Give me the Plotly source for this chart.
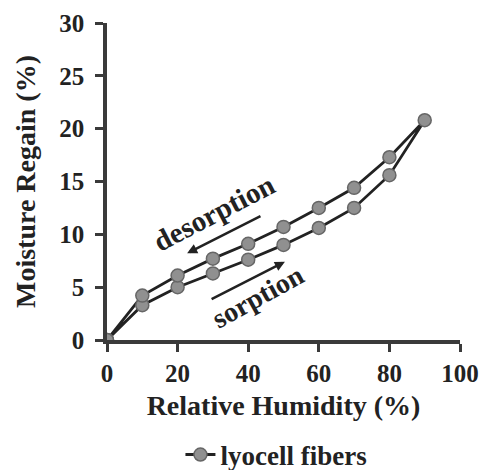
import plotly.graph_objects as go

# Data
rh_sorption = [0, 10, 20, 30, 40, 50, 60, 70, 80, 90]
mr_sorption = [0, 3.3, 5.0, 6.3, 7.6, 9.0, 10.6, 12.5, 15.6, 20.8]
rh_desorption = [90, 80, 70, 60, 50, 40, 30, 20, 10, 0]
mr_desorption = [20.8, 17.3, 14.4, 12.5, 10.7, 9.1, 7.7, 6.1, 4.2, 0]

x_ticks = [0, 20, 40, 60, 80, 100]
y_ticks = [0, 5, 10, 15, 20, 25, 30]

series_name = "lyocell fibers"
x_title = "Relative Humidity (%)"
y_title = "Moisture Regain (%)"

FONT = "Liberation Serif"

def bfont(size):
    return dict(family=FONT, size=size, color="#222222", weight="bold")

x_all = rh_sorption + rh_desorption[1:]
y_all = mr_sorption + mr_desorption[1:]

fig = go.Figure()
fig.add_trace(go.Scatter(
    x=x_all, y=y_all, mode="lines+markers", name=series_name,
    line=dict(color="#222222", width=2.8),
    marker=dict(size=13, color="#909090", line=dict(color="#666666", width=1.5)),
))

# annotations: labels with arrows
fig.add_annotation(x=30.2, y=12.0, text="desorption", showarrow=False,
                   textangle=-27.5, font=bfont(29))
fig.add_annotation(x=42.8, y=4.1, text="sorption", showarrow=False,
                   textangle=-29, font=bfont(28))
fig.add_annotation(x=22.7, y=8.2, ax=43.9, ay=11.8, xref="x", yref="y", axref="x", ayref="y",
                   text="", showarrow=True, arrowhead=2, arrowsize=0.8, arrowwidth=2.5, arrowcolor="#222")
fig.add_annotation(x=50.4, y=7.4, ax=29.2, ay=3.8, xref="x", yref="y", axref="x", ayref="y",
                   text="", showarrow=True, arrowhead=2, arrowsize=0.8, arrowwidth=2.5, arrowcolor="#222")

axis_common = dict(
    showgrid=False, zeroline=False, showline=True, linecolor="#3a3a3a", linewidth=3.5,
    ticks="outside", ticklen=8, tickwidth=2.5, tickcolor="#3a3a3a",
    tickfont=bfont(25), automargin=False,
)

fig.update_xaxes(range=[0, 100], tickvals=x_ticks, ticklabelstandoff=0,
                 title=dict(text=x_title, font=bfont(28), standoff=11),
                 **axis_common)
fig.update_yaxes(range=[0, 30], tickvals=y_ticks, ticklabelstandoff=6,
                 title=dict(text=y_title, font=bfont(28), standoff=16),
                 **axis_common)

fig.update_layout(
    width=483, height=470,
    margin=dict(l=107, r=23, t=23, b=130, autoexpand=False),
    plot_bgcolor="white", paper_bgcolor="white",
    showlegend=True,
    legend=dict(orientation="h", x=0.48, xanchor="center",
                yref="container", y=0.032, yanchor="middle",
                font=bfont(27), bgcolor="rgba(0,0,0,0)"),
    font=dict(family=FONT),
)

fig.write_html("out.html")
